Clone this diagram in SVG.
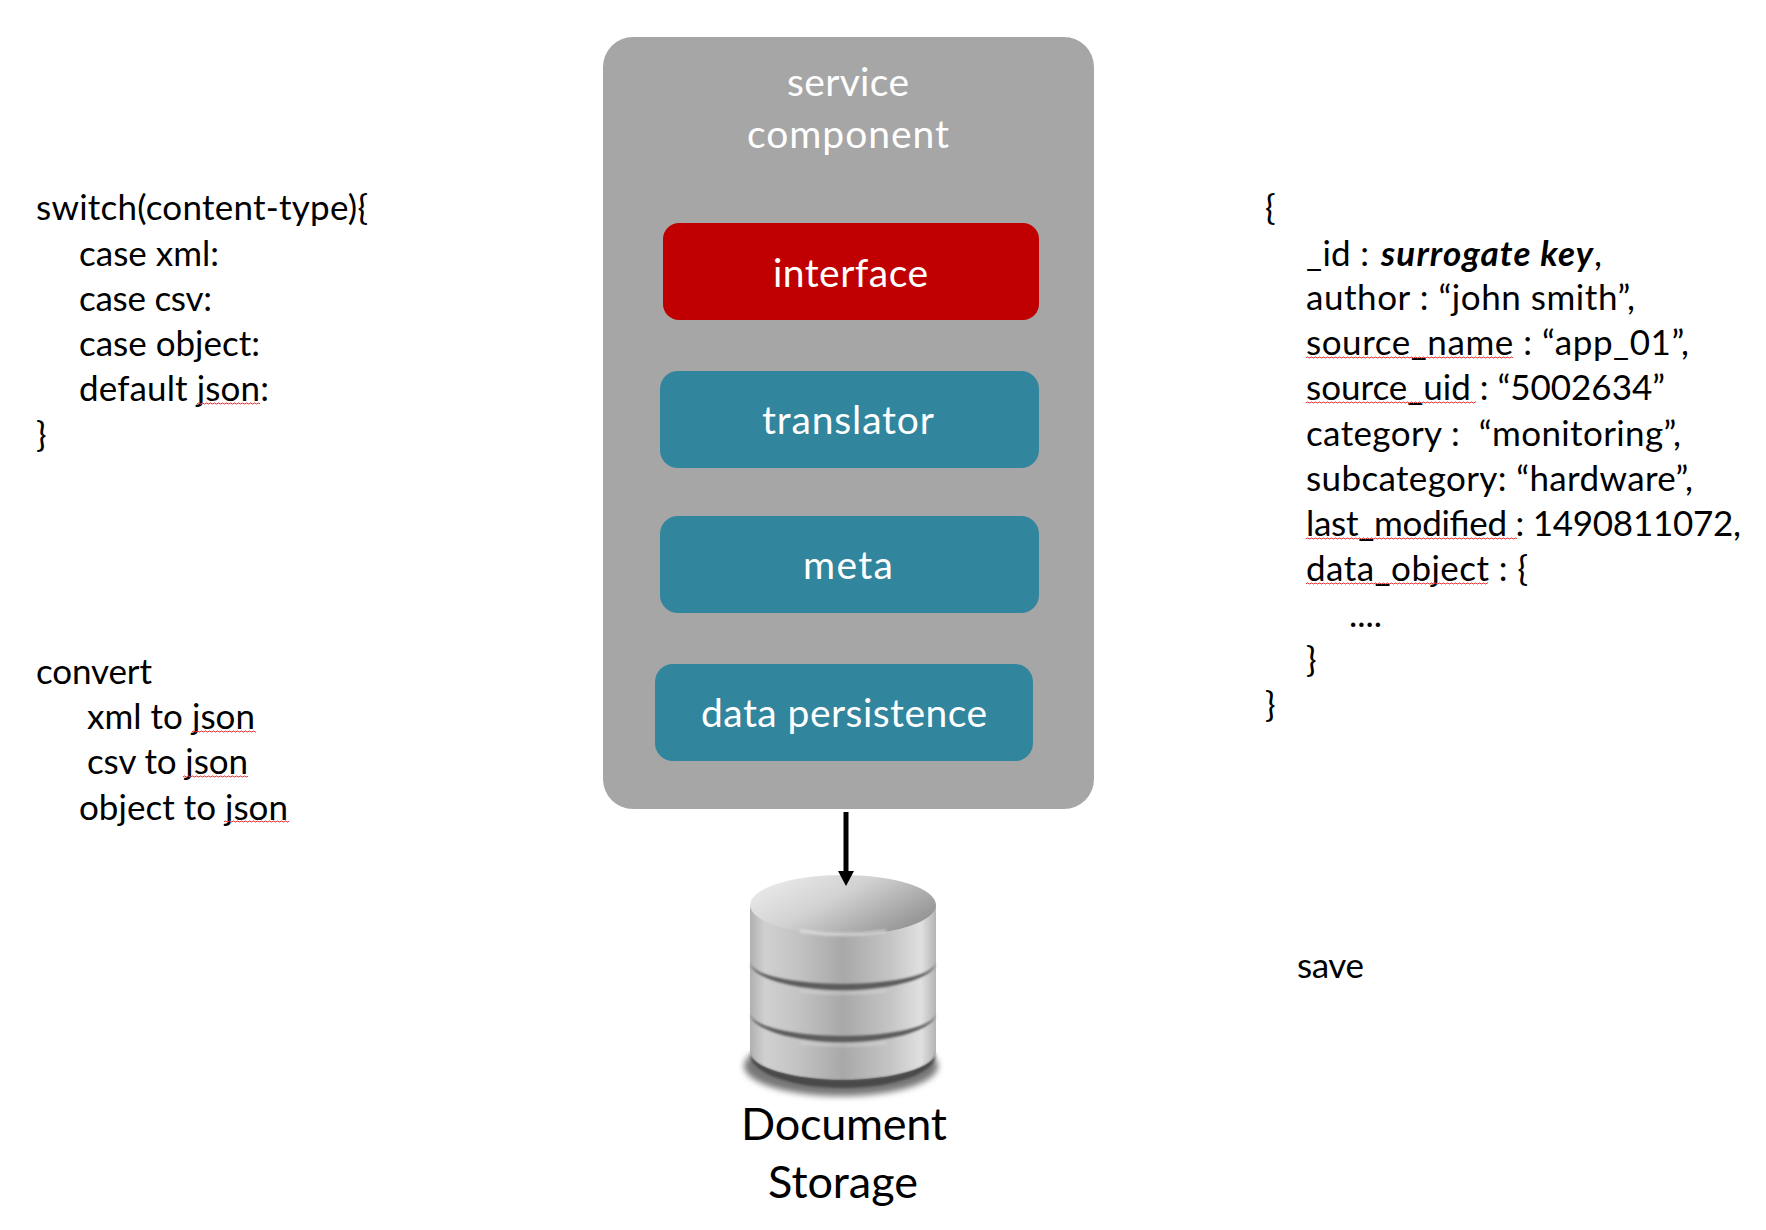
<svg xmlns="http://www.w3.org/2000/svg" width="1766" height="1230" viewBox="0 0 1766 1230">
<style>
text{font-family:"Lato","Open Sans","Liberation Sans",sans-serif;white-space:pre;transform:translateY(1.5px)}
.t{font-size:35px;fill:#000}
.w{font-size:39px;fill:#fff}
.d{font-size:45px;fill:#000}
.teal{fill:#31859c}
.sq{fill:url(#sq)}
</style>
<defs>
<pattern id="sq" width="4" height="3" patternUnits="userSpaceOnUse"><path d="M0 2L1 1L2 1L3 2L4 2" fill="none" stroke="#e8383b" stroke-width="1"/></pattern>
<linearGradient id="body" x1="0" x2="1" y1="0" y2="0"><stop offset="0" stop-color="#b0b0b0"/><stop offset=".08" stop-color="#d0d0d0"/><stop offset=".25" stop-color="#c4c4c4"/><stop offset=".5" stop-color="#a8a8a8"/><stop offset=".75" stop-color="#c4c4c4"/><stop offset=".92" stop-color="#e0e0e0"/><stop offset="1" stop-color="#b4b4b4"/></linearGradient>
<linearGradient id="top" x1="0" x2="1" y1="0" y2=".6"><stop offset="0" stop-color="#f0f0f0"/><stop offset=".5" stop-color="#d2d2d2"/><stop offset="1" stop-color="#979797"/></linearGradient>
<filter id="blur" x="-20%" y="-50%" width="140%" height="200%"><feGaussianBlur stdDeviation="3"/></filter>
<filter id="b1" x="-5%" y="-30%" width="110%" height="160%"><feGaussianBlur stdDeviation=".8"/></filter>
<filter id="b2" x="-20%" y="-200%" width="140%" height="500%"><feGaussianBlur stdDeviation="1.5"/></filter>
</defs>
<g id="service-component"><rect x="603" y="37" width="491" height="772" rx="30" fill="#a6a6a6"/><text class="w" x="787" y="94" textLength="122">service</text><text class="w" x="747" y="146" textLength="202">component</text></g>
<g id="interface"><rect x="663" y="223" width="376" height="97" rx="16" fill="#c00000"/><text class="w" x="773" y="285" textLength="155">interface</text></g>
<g id="translator"><rect x="660" y="371" width="379" height="97" rx="18" class="teal"/><text class="w" x="762" y="432" textLength="172">translator</text></g>
<g id="meta"><rect x="660" y="516" width="379" height="97" rx="18" class="teal"/><text class="w" x="803" y="577" textLength="90">meta</text></g>
<g id="data-persistence"><rect x="655" y="664" width="378" height="97" rx="18" class="teal"/><text class="w" x="701" y="725" textLength="286">data persistence</text></g>
<g id="document-storage">
<ellipse cx="841" cy="1066" rx="97" ry="30" fill="#777" filter="url(#blur)"/>
<path d="M750 905V1052A93 28 0 0 0 936 1052V905Z" fill="url(#body)"/>
<path d="M750 1052A93 28 0 0 0 936 1052V1054A93 34 0 0 1 750 1054Z" fill="#484848" filter="url(#b1)"/>
<path d="M750 962A93 22 0 0 0 936 962A93 28 0 0 1 750 962Z" fill="#5c5c5c" filter="url(#b1)"/>
<path d="M800 991Q843 996 886 991" fill="none" stroke="#e4e4e4" stroke-width="1.5" opacity=".7" filter="url(#b2)"/>
<path d="M750 1013A93 23 0 0 0 936 1013A93 29 0 0 1 750 1013Z" fill="#5c5c5c" filter="url(#b1)"/>
<path d="M800 1043Q843 1048 886 1043" fill="none" stroke="#e4e4e4" stroke-width="1.5" opacity=".7" filter="url(#b2)"/>
<ellipse cx="843" cy="905" rx="93" ry="30" fill="url(#top)"/>
<path d="M800 931Q843 938 886 931" fill="none" stroke="#f4f4f4" stroke-width="2" opacity=".8" filter="url(#b2)"/>
<text class="d" x="741" y="1138" textLength="206">Document</text><text class="d" x="768" y="1196" textLength="150">Storage</text>
</g>
<g id="connectors"><path d="M846 812V872" fill="none" stroke="#000" stroke-width="5"/><path d="M838 871H854L846 886Z" fill="#000"/></g>
<g id="switch-note">
<text class="t" x="36" y="218" textLength="332">switch(content-type){</text>
<text class="t" x="79" y="264" textLength="140">case xml:</text>
<text class="t" x="79" y="309" textLength="133">case csv:</text>
<text class="t" x="79" y="354" textLength="181">case object:</text>
<text class="t" x="79" y="399" textLength="190">default json:</text>
<text class="t" x="36" y="445">}</text>
<rect class="sq" transform="translate(197 402)" width="63" height="3"/>
</g>
<g id="convert-note">
<text class="t" x="36" y="682" textLength="116">convert</text>
<text class="t" x="87" y="727" textLength="168">xml to json</text>
<text class="t" x="87" y="772" textLength="161">csv to json</text>
<text class="t" x="79" y="818" textLength="209">object to json</text>
<rect class="sq" transform="translate(192 730)" width="64" height="3"/>
<rect class="sq" transform="translate(183 775)" width="65" height="3"/>
<rect class="sq" transform="translate(224 820)" width="65" height="3"/>
</g>
<g id="json-note">
<text class="t" x="1265" y="218">{</text>
<text class="t" x="1306" y="264" textLength="63">_id :</text><text class="t" x="1381" y="264" font-weight="700" font-style="italic" textLength="212">surrogate key</text><text class="t" x="1594" y="264">,</text>
<text class="t" x="1306" y="308" textLength="329">author : “john smith”,</text>
<text class="t" x="1306" y="353" textLength="383">source_name : “app_01”,</text>
<text class="t" x="1306" y="398" textLength="359">source_uid : “5002634”</text>
<text class="t" x="1306" y="444" textLength="375">category :  “monitoring”,</text>
<text class="t" x="1306" y="489" textLength="387">subcategory: “hardware”,</text>
<text class="t" x="1306" y="534" textLength="435">last_modified : 1490811072,</text>
<text class="t" x="1306" y="579" textLength="222">data_object : {</text>
<text class="t" x="1349" y="625" textLength="33">....</text>
<text class="t" x="1306" y="670">}</text>
<text class="t" x="1265" y="715">}</text>
<rect class="sq" transform="translate(1306 356)" width="207" height="3"/>
<rect class="sq" transform="translate(1306 401)" width="170" height="3"/>
<rect class="sq" transform="translate(1306 537)" width="211" height="3"/>
<rect class="sq" transform="translate(1306 582)" width="182" height="3"/>
</g>
<g id="save-note"><text class="t" x="1297" y="976" textLength="67">save</text></g>
</svg>
